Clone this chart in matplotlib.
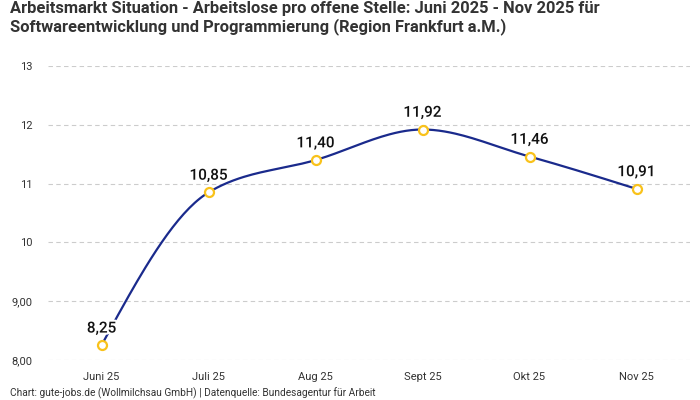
import numpy as np
import matplotlib.pyplot as plt
import matplotlib.patheffects as pe

plt.rcParams['font.family'] = ['Roboto', 'DejaVu Sans']

# Data
months = ["Juni 25", "Juli 25", "Aug 25", "Sept 25", "Okt 25", "Nov 25"]
values = [8.25, 10.85, 11.40, 11.92, 11.46, 10.91]
y_ticks = [8, 9, 10, 11, 12, 13]
y_tick_labels = ["8,00", "9,00", "10", "11", "12", "13"]

title = ("Arbeitsmarkt Situation - Arbeitslose pro offene Stelle: Juni 2025 - Nov 2025 für\n"
         "Softwareentwicklung und Programmierung (Region Frankfurt a.M.)")
source = "Chart: gute-jobs.de (Wollmilchsau GmbH) | Datenquelle: Bundesagentur für Arbeit"

LINE = "#1a2a8c"
MARK = "#f9c21b"


def monotone_curve(x, y, n=40):
    # monotone cubic (like d3 curveMonotoneX) for drawing the line
    x = np.asarray(x, float)
    y = np.asarray(y, float)
    h = np.diff(x)
    s = np.diff(y) / h
    t = np.zeros_like(y)
    for i in range(1, len(y) - 1):
        p = (s[i - 1] * h[i] + s[i] * h[i - 1]) / (h[i - 1] + h[i])
        t[i] = (np.sign(s[i - 1]) + np.sign(s[i])) * min(abs(s[i - 1]), abs(s[i]), 0.5 * abs(p))
    t[0] = (3 * s[0] - t[1]) / 2
    t[-1] = (3 * s[-1] - t[-2]) / 2
    xs, ys = [], []
    for i in range(len(h)):
        u = np.linspace(0, 1, n)
        h00 = 2 * u**3 - 3 * u**2 + 1
        h10 = u**3 - 2 * u**2 + u
        h01 = -2 * u**3 + 3 * u**2
        h11 = u**3 - u**2
        xs.append(x[i] + u * h[i])
        ys.append(h00 * y[i] + h10 * h[i] * t[i] + h01 * y[i + 1] + h11 * h[i] * t[i + 1])
    return np.concatenate(xs), np.concatenate(ys)


fig = plt.figure(figsize=(7, 4), dpi=100)
ax = fig.add_axes([48 / 700, 1 - 360 / 400, (690 - 48) / 700, (360 - 66) / 400])

x = np.arange(len(months))
cx, cy = monotone_curve(x, values)
ax.plot(cx, cy, color=LINE, lw=1.6, zorder=2)
ax.scatter(x, values, s=42, facecolor="white", edgecolor=MARK, linewidth=1.6, zorder=4)

for xi, v in zip(x, values):
    ax.annotate(f"{v:.2f}".replace(".", ","), (xi, v), xytext=(0, 7), textcoords="offset points",
                ha="center", va="bottom", fontsize=11, fontweight="medium", color="#111111",
                zorder=5, path_effects=[pe.withStroke(linewidth=3, foreground="white")])

ax.set_xlim(-0.5, len(months) - 0.5)
ax.set_ylim(8, 13)
ax.set_xticks(x)
ax.set_xticklabels(months)
ax.set_yticks(y_ticks)
ax.set_yticklabels(y_tick_labels)
ax.tick_params(axis="both", length=0, labelsize=8, labelcolor="#333333")
ax.tick_params(axis="x", pad=9)
ax.tick_params(axis="y", pad=11)
ax.grid(axis="y", color="#cccccc", linestyle=(0, (4, 3)), linewidth=0.8)
ax.set_axisbelow(True)
for sp in ax.spines.values():
    sp.set_visible(False)

fig.text(10 / 700, 1 - 1 / 400, title, ha="left", va="top", fontsize=11.9,
         fontweight="bold", color="#333333", linespacing=1.15)
fig.text(10 / 700, 1 - 393 / 400, source, ha="left", va="center", fontsize=7.3, color="#333333")

fig.savefig("out.png", dpi=100)
